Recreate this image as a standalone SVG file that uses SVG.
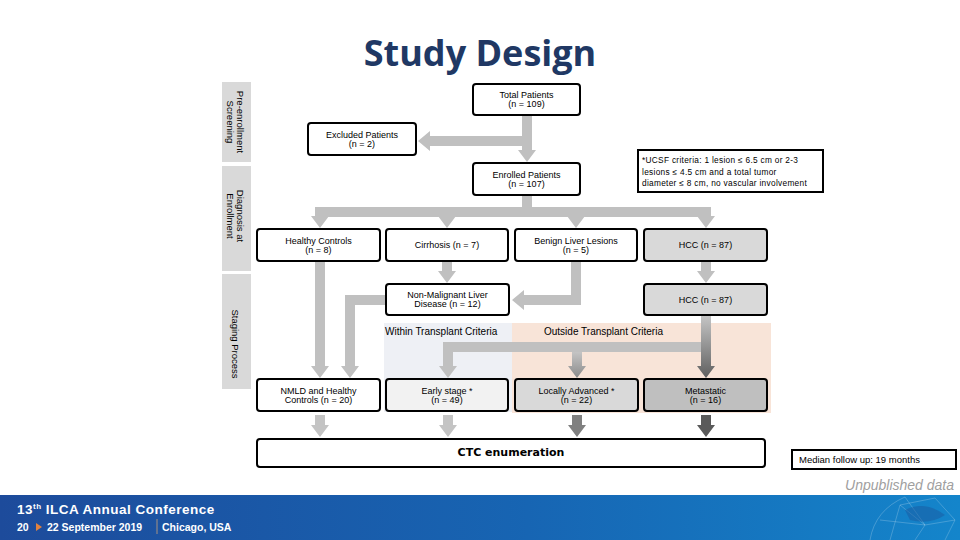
<svg xmlns="http://www.w3.org/2000/svg" width="960" height="540" viewBox="0 0 960 540">
<defs>
<style>
.box{fill:#fff;stroke:#000;stroke-width:2}
.g1{fill:#d9d9d9}
.g0{fill:#f2f2f2}
.g2{fill:#bfbfbf}
.t{font-family:"Liberation Sans",Arial,sans-serif;font-size:9px;fill:#000;text-anchor:middle}
.side{font-family:"Liberation Sans",Arial,sans-serif;font-size:9.5px;fill:#000;text-anchor:middle;dominant-baseline:central}
.bar{fill:#d9d9d9}
.arr{fill:#c0c0c0}
.lab{font-family:"Liberation Sans",Arial,sans-serif;font-size:10px;fill:#000}
</style>
<linearGradient id="gMet" gradientUnits="userSpaceOnUse" x1="0" y1="316" x2="0" y2="378">
<stop offset="0" stop-color="#c4c4c4"/><stop offset="1" stop-color="#5f5f5f"/>
</linearGradient>
<linearGradient id="gLoc" gradientUnits="userSpaceOnUse" x1="0" y1="352" x2="0" y2="378">
<stop offset="0" stop-color="#c4c4c4"/><stop offset="1" stop-color="#8a8a8a"/>
</linearGradient>
<linearGradient id="gFoot" x1="0" y1="0" x2="1" y2="0">
<stop offset="0" stop-color="#1d4b9b"/><stop offset="0.55" stop-color="#1765b3"/><stop offset="1" stop-color="#1485cb"/>
</linearGradient>
</defs>
<rect width="960" height="540" fill="#fff"/>

<text x="480" y="66" font-family="'Open Sans','Liberation Sans',sans-serif" font-weight="bold" font-size="36" fill="#203864" text-anchor="middle">Study Design</text>

<g id="phase-labels">
<rect class="bar" x="222" y="82" width="29" height="80"/>
<rect class="bar" x="222" y="166" width="29" height="105"/>
<rect class="bar" x="222" y="274" width="29" height="115"/>
<text class="side" transform="translate(236,122) rotate(90)"><tspan x="0" y="-5">Pre-enrollment</tspan><tspan x="0" y="5">Screening</tspan></text>
<text class="side" transform="translate(236,216) rotate(90)"><tspan x="0" y="-5">Diagnosis at</tspan><tspan x="0" y="5">Enrollment</tspan></text>
<text class="side" transform="translate(236,344) rotate(90)"><tspan x="0" y="0">Staging Process</tspan></text>
</g>

<g id="regions">
<rect x="384" y="323" width="128" height="89" fill="#eef0f5"/>
<rect x="512" y="323" width="259" height="90" fill="#f8e4d8"/>
<text class="lab" x="385" y="335">Within Transplant Criteria</text>
<text class="lab" x="544" y="335">Outside Transplant Criteria</text>
</g>

<g id="connectors">
<polygon class="arr" points="522,116 532,116 532,150 536,150 527,162 518,150 522,150"/>
<polygon class="arr" points="532,136 532,146 430,146 430,151 418,141 430,131 430,136"/>
<rect class="arr" x="522" y="195" width="10" height="17"/>
<rect class="arr" x="315" y="207" width="396" height="10"/>
<polygon class="arr" points="315,212 325,212 325,216 329,216 320,228 311,216 315,216"/>
<polygon class="arr" points="442,212 452,212 452,216 456,216 447,228 438,216 442,216"/>
<polygon class="arr" points="571,212 581,212 581,216 585,216 576,228 567,216 571,216"/>
<polygon class="arr" points="701,212 711,212 711,216 715,216 706,228 697,216 701,216"/>
<polygon class="arr" points="442,262 452,262 452,271 456,271 447,283 438,271 442,271"/>
<polygon class="arr" points="701,262 711,262 711,271 715,271 706,283 697,271 701,271"/>
<polygon class="arr" points="571,262 581,262 581,305 524,305 524,310 512,300 524,290 524,295 571,295"/>
<polygon class="arr" points="386,295 386,305 355,305 355,366 359,366 350,378 341,366 345,366 345,295"/>
<polygon class="arr" points="315,262 325,262 325,366 329,366 320,378 311,366 315,366"/>
<rect class="arr" x="443" y="342" width="263" height="10"/>
<polygon class="arr" points="443,342 453,342 453,366 457,366 448,378 439,366 443,366"/>
<polygon fill="url(#gLoc)" points="572,352 582,352 582,366 586,366 577,378 568,366 572,366"/>
<polygon fill="url(#gMet)" points="701,316 711,316 711,366 715,366 706,378 697,366 701,366"/>
<polygon fill="#c4c4c4" points="315,415 325,415 325,425 329,425 320,437 311,425 315,425"/>
<polygon fill="#c4c4c4" points="443,415 453,415 453,425 457,425 448,437 439,425 443,425"/>
<polygon fill="#808080" points="572,415 582,415 582,425 586,425 577,437 568,425 572,425"/>
<polygon fill="#5a5a5a" points="701,415 711,415 711,425 715,425 706,437 697,425 701,425"/>
</g>

<g id="total"><rect class="box" x="473" y="84" width="107" height="31" rx="3"/><text class="t" x="526.5" y="98">Total Patients</text><text class="t" x="526.5" y="107">(n = 109)</text></g>
<g id="excluded"><rect class="box" x="308" y="123" width="108" height="32" rx="3"/><text class="t" x="362" y="137.5">Excluded Patients</text><text class="t" x="362" y="146.5">(n = 2)</text></g>
<g id="enrolled"><rect class="box" x="473" y="163" width="107" height="32" rx="3"/><text class="t" x="526.5" y="177.5">Enrolled Patients</text><text class="t" x="526.5" y="186.5">(n = 107)</text></g>
<g id="ucsf"><rect class="box" x="638" y="150" width="185" height="42"/>
<text font-family="'Liberation Sans',Arial,sans-serif" font-size="8.3" letter-spacing="0.3" fill="#000"><tspan x="642" y="163">*UCSF criteria: 1 lesion ≤ 6.5 cm or 2-3</tspan><tspan x="642" y="174.5">lesions ≤ 4.5 cm and a total tumor</tspan><tspan x="642" y="186">diameter ≤ 8 cm, no vascular involvement</tspan></text></g>
<g id="healthy"><rect class="box" x="257" y="229" width="123" height="32" rx="3"/><text class="t" x="318.5" y="243.5">Healthy Controls</text><text class="t" x="318.5" y="252.5">(n = 8)</text></g>
<g id="cirrhosis"><rect class="box" x="386" y="229" width="122" height="32" rx="3"/><text class="t" x="447" y="248">Cirrhosis (n = 7)</text></g>
<g id="benign"><rect class="box" x="515" y="229" width="122" height="32" rx="3"/><text class="t" x="576" y="243.5">Benign Liver Lesions</text><text class="t" x="576" y="252.5">(n = 5)</text></g>
<g id="hcc1"><rect class="box g1" x="644" y="229" width="123" height="32" rx="3"/><text class="t" x="705.5" y="248">HCC (n = 87)</text></g>
<g id="nmld"><rect class="box" x="386" y="284" width="123" height="31" rx="3"/><text class="t" x="447.5" y="298">Non-Malignant Liver</text><text class="t" x="447.5" y="307">Disease (n = 12)</text></g>
<g id="hcc2"><rect class="box g1" x="644" y="284" width="123" height="31" rx="3"/><text class="t" x="705.5" y="302.5">HCC (n = 87)</text></g>
<g id="nmld-hc"><rect class="box" x="257" y="379" width="123" height="32" rx="3"/><text class="t" x="318.5" y="393.5">NMLD and Healthy</text><text class="t" x="318.5" y="402.5">Controls (n = 20)</text></g>
<g id="early"><rect class="box g0" x="386" y="379" width="122" height="32" rx="3"/><text class="t" x="447" y="393.5">Early stage *</text><text class="t" x="447" y="402.5">(n = 49)</text></g>
<g id="locally"><rect class="box g1" x="515" y="379" width="123" height="32" rx="3"/><text class="t" x="576.5" y="393.5">Locally Advanced *</text><text class="t" x="576.5" y="402.5">(n = 22)</text></g>
<g id="metastatic"><rect class="box g2" x="644" y="379" width="123" height="32" rx="3"/><text class="t" x="705.5" y="393.5">Metastatic</text><text class="t" x="705.5" y="402.5">(n = 16)</text></g>
<g id="ctc"><rect class="box" x="257" y="439" width="508" height="28" rx="3"/><text x="511" y="456" font-family="'DejaVu Sans',Verdana,sans-serif" font-weight="bold" font-size="11" text-anchor="middle" fill="#000">CTC enumeration</text></g>
<g id="median"><rect class="box" x="792" y="450" width="164" height="19"/><text x="799" y="463" font-family="'Liberation Sans',Arial,sans-serif" font-size="9.5" fill="#000">Median follow up: 19 months</text></g>

<text x="954" y="490" font-family="'Liberation Sans',Arial,sans-serif" font-style="italic" font-size="14" fill="#a0a0a0" text-anchor="end">Unpublished data</text>

<g id="footer">
<rect x="0" y="495" width="960" height="45" fill="url(#gFoot)"/>
<g stroke="#fff" stroke-opacity="0.3" stroke-width="0.7" fill="none">
<path d="M870,540 Q875,510 905,497"/>
<path d="M890,540 L900,505 L935,498 L955,520 L945,540"/>
<path d="M900,505 L925,525 L955,520"/>
<path d="M880,520 L925,525 L915,540"/>
<path d="M905,497 L925,525"/>
</g>
<path d="M905,510 Q925,500 945,515 Q930,525 910,520 Z" fill="#1a5aa0" fill-opacity="0.5"/>
<text x="17" y="514" font-family="'Liberation Sans',Arial,sans-serif" font-weight="bold" font-size="13.5" letter-spacing="0.5" fill="#fff">13<tspan font-size="8" dy="-5">th</tspan><tspan dy="5"> ILCA Annual Conference</tspan></text>
<text x="17" y="531" font-family="'Liberation Sans',Arial,sans-serif" font-weight="bold" font-size="10.5" fill="#fff">20</text>
<polygon points="36,523 36,531 42,527" fill="#e0813e"/>
<text x="47" y="531" font-family="'Liberation Sans',Arial,sans-serif" font-weight="bold" font-size="10.5" fill="#fff">22 September 2019</text>
<line x1="157" y1="519" x2="157" y2="534" stroke="#c9a27a" stroke-width="0.8"/>
<text x="162" y="531" font-family="'Liberation Sans',Arial,sans-serif" font-weight="bold" font-size="10.5" fill="#fff">Chicago, USA</text>
</g>
</svg>
